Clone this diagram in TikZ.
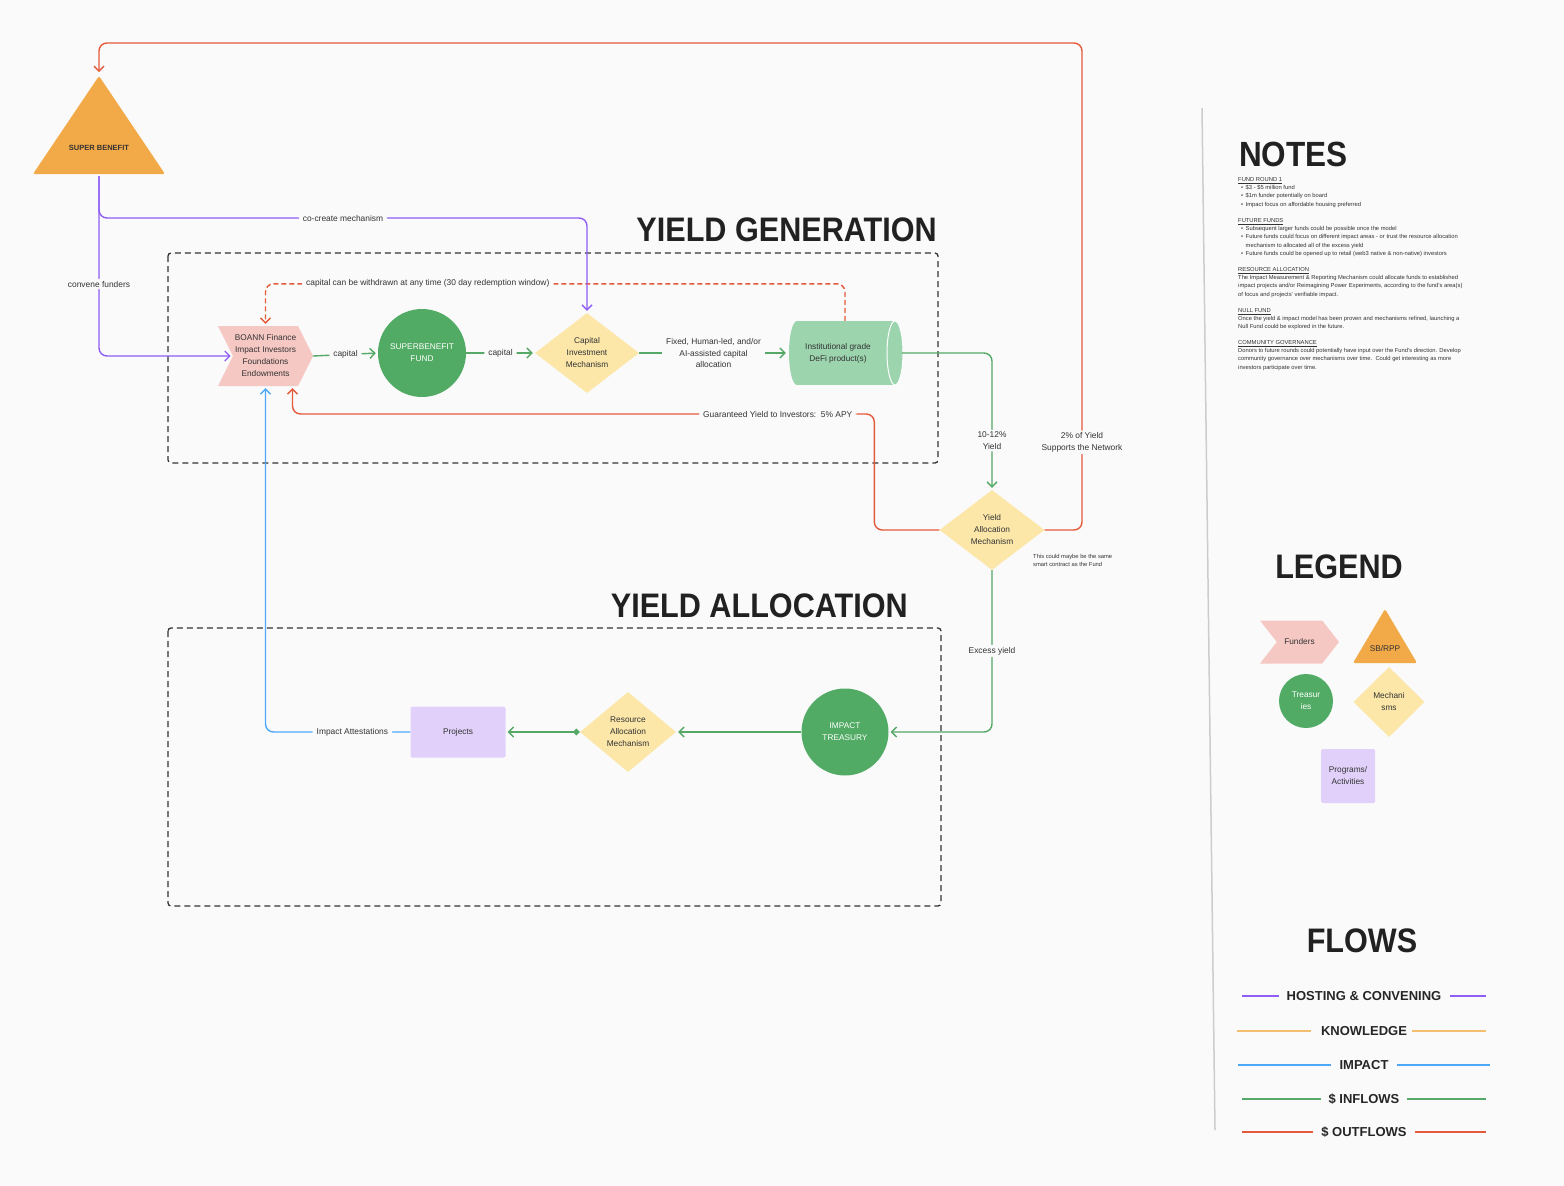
\documentclass[tikz,border=0pt]{standalone}
\usepackage{fontspec}
\setmainfont{Liberation Sans}
\newfontfamily\headfont[FakeStretch=0.9]{Liberation Sans}
\usetikzlibrary{shapes.geometric, shapes.symbols, arrows.meta}

\definecolor{pagebg}{HTML}{FAFAFA}
\definecolor{funderpink}{HTML}{F6C8C3}
\definecolor{sborange}{HTML}{F2A947}
\definecolor{treasgreen}{HTML}{52AB65}
\definecolor{mechyellow}{HTML}{FCE7A9}
\definecolor{defigreen}{HTML}{9CD4AE}
\definecolor{projpurple}{HTML}{E1D1FA}
\definecolor{ingreen}{HTML}{55A865}
\definecolor{outred}{HTML}{E65A3C}
\definecolor{hostpurple}{HTML}{8F5CF5}
\definecolor{impblue}{HTML}{4DA8FA}
\definecolor{knoworange}{HTML}{F3BE70}
\definecolor{inkgray}{HTML}{333333}

\newcommand{\notebullet}{\hspace*{3pt}\textbullet\hspace*{2.5pt}}
\newcommand{\noteindent}{\hspace*{7.5pt}}

\begin{document}
\begin{tikzpicture}[x=1pt, y=-1pt]
	\tikzset{
	>={Straight Barb[length=5pt, width=10pt]}, % open chevron heads
	flow/.style={line width=1.4pt, rounded corners=8pt, shorten >=2pt}, % every connector
	inflow/.style={flow, ingreen, ->},
	outflow/.style={flow, outred, ->},
	hosting/.style={flow, hostpurple, ->},
	impactflow/.style={flow, impblue, ->},
	lbl/.style={fill=pagebg, text=inkgray, font=\fontsize{8.4}{11.5}\selectfont, align=center, inner xsep=4pt, inner ysep=2pt}, % text on a connector
	shapetext/.style={font=\fontsize{8.3}{12}\selectfont, align=center, text=inkgray, inner sep=0pt},
	funder/.style={shapetext, signal, signal to=east, signal from=west, fill=funderpink},
	treasury/.style={shapetext, circle, fill=treasgreen, text=white},
	mech/.style={shapetext, diamond, aspect=1.3, fill=mechyellow},
	project/.style={shapetext, rectangle, rounded corners=1.5pt, fill=projpurple},
	zone/.style={draw=black!80, line width=1.3pt, dash pattern=on 6pt off 4pt, rounded corners=3pt},
	titletxt/.style={font=\headfont\bfseries\fontsize{34}{40}\selectfont, text=black!87, inner sep=0pt},
	flowtxt/.style={font=\bfseries\fontsize{13}{15}\selectfont, text=black!85, inner sep=0pt},
	notetext/.style={font=\fontsize{5.8}{8.1}\selectfont, align=left, text=inkgray, inner sep=0pt, anchor=north west}
	}
	\fill[pagebg] (0,0) rectangle (1564,1186);
	\useasboundingbox (0,0) rectangle (1564,1186);

	% the two zones
	\draw[zone] (168,253) rectangle (938,463);
	\draw[zone] (168,628) rectangle (941,906);
	\node[titletxt, anchor=base east] (ygtitle) at (937,241) {YIELD GENERATION};
	\node[titletxt, anchor=base east] (yatitle) at (908,617) {YIELD ALLOCATION};

	% super benefit
	\fill[sborange, rounded corners=2pt] (99,76) -- (165,174) -- (33,174) -- cycle;
	\node[shapetext, font=\bfseries\fontsize{7.5}{9}\selectfont] (sb) at (99,148) {SUPER BENEFIT};
	\coordinate (sbtop) at (99,74);
	\coordinate (sbbase) at (99,176);
	\coordinate (branch) at (99,218);
	\coordinate (netcorner) at (1082,43);

	% yield generation
	\node[funder, minimum width=95, minimum height=60, signal pointer angle=127] (boann) at (265.5,356) {BOANN Finance\\Impact Investors\\Foundations\\Endowments};
	\node[treasury, minimum size=88] (sbfund) at (422,353) {SUPERBENEFIT\\FUND};
	\node[mech, minimum width=104, minimum height=80] (cim) at (587,353) {Capital\\Investment\\Mechanism};
	\fill[defigreen] (797,321) rectangle (895,385);
	\fill[defigreen] (797,353) ellipse [x radius=8, y radius=32];
	\fill[defigreen] (895,353) ellipse [x radius=8, y radius=32];
	\draw[white, line width=1pt] (895,353) ellipse [x radius=8, y radius=32];
	\node[shapetext, minimum width=114, minimum height=64] (defi) at (845,353) {\hspace*{-14pt}\begin{tabular}{@{}c@{}}Institutional grade\\DeFi product(s)\end{tabular}};
	\node[mech, minimum width=105, minimum height=80] (yam) at (992,530) {Yield\\Allocation\\Mechanism};
	\node[notetext] (yamnote) at (1033,554) {This could maybe be the same\\smart contract as the Fund};

	% yield allocation
	\node[treasury, minimum size=87] (itreas) at (845,732) {IMPACT\\TREASURY};
	\node[mech, minimum width=96, minimum height=80] (ram) at (628,732) {Resource\\Allocation\\Mechanism};
	\node[project, minimum width=95, minimum height=51] (projects) at (458,732) {Projects};

	% connectors
	\draw[inflow] (boann.east) -- node[lbl]{capital} (sbfund.west);
	\draw[inflow] (sbfund.east) -- node[lbl]{capital} (cim.west);
	\draw[inflow] (cim.east) -- node[lbl]{Fixed, Human-led, and/or\\AI-assisted capital\\allocation} (defi.west);
	\draw[inflow] (defi.east) -- (defi.east -| yam.north) -- node[lbl, pos=0.64]{10-12\%\\Yield} (yam.north);
	\draw[outflow] (yam.east) -| node[lbl, pos=0.59]{2\% of Yield\\Supports the Network} (netcorner) -| (sbtop);
	\draw[outflow] (yam.west) -- ++(-65,0) -- ++(0,-116) -| node[lbl, pos=0.083]{Guaranteed Yield to Investors:\ \ 5\% APY} ([xshift=27]boann.south);
	\draw[outflow, dash pattern=on 5pt off 3pt] (defi.north) -- ++(0,-37) -| node[lbl, pos=0.36]{capital can be withdrawn at any time (30 day redemption window)} (boann.north);
	\draw[hosting] (sbbase) |- node[lbl, pos=0.30]{convene funders} (boann.west);
	\draw[hosting] (sbbase) -- (branch) -| node[lbl, pos=0.25]{co-create mechanism} (cim.north);
	\draw[impactflow] (projects.west) -| node[lbl, pos=0.2]{Impact Attestations} (boann.south);
	\draw[inflow] (yam.south) |- node[lbl, pos=0.25]{Excess yield} (itreas.east);
	\draw[inflow] (itreas.west) -- (ram.east);
	\draw[inflow, {Diamond[length=7pt, width=7pt]}->] (ram.west) -- (projects.east);

	% side panel
	\draw[black!20, line width=1.5pt] (1202,108) -- (1215,1130);
	\node[titletxt, font=\headfont\bfseries\fontsize{35}{40}\selectfont, anchor=base west] (notestitle) at (1239,166) {NOTES};
	\node[notetext] (note1) at (1238,177.5) {\underline{FUND ROUND 1}\\
		\notebullet \$3 - \$5 million fund\\
		\notebullet \$1m funder potentially on board\\
		\notebullet Impact focus on affordable housing preferred};
	\node[notetext] (note2) at (1238,218.5) {\underline{FUTURE FUNDS}\\
		\notebullet Subsequent larger funds could be possible once the model\\
		\notebullet Future funds could focus on different impact areas - or trust the resource allocation\\
		\noteindent mechanism to allocated all of the excess yield\\
		\notebullet Future funds could be opened up to retail (web3 native \& non-native) investors};
	\node[notetext] (note3) at (1238,267.5) {\underline{RESOURCE ALLOCATION}\\
		The Impact Measurement \& Reporting Mechanism could allocate funds to established\\
		impact projects and/or Reimagining Power Experiments, according to the fund's area(s)\\
		of focus and projects' verifiable impact.};
	\node[notetext] (note4) at (1238,308.5) {\underline{NULL FUND}\\
		Once the yield \& impact model has been proven and mechanisms refined, launching a\\
		Null Fund could be explored in the future.};
	\node[notetext] (note5) at (1238,340.5) {\underline{COMMUNITY GOVERNANCE}\\
		Donors to future rounds could potentially have input over the Fund's direction. Develop\\
		community governance over mechanisms over time.\ \ Could get interesting as more\\
		investors participate over time.};

	% legend
	\node[titletxt, anchor=base] (legendtitle) at (1339,578) {LEGEND};
	\node[funder, minimum width=79, minimum height=43, signal pointer angle=104] (lgfunders) at (1299.5,642) {Funders};
	\fill[sborange, rounded corners=1.5pt] (1385,609) -- (1417,663) -- (1353,663) -- cycle;
	\node[shapetext] (lgsb) at (1385,649) {SB/RPP};
	\node[treasury, minimum size=54] (lgtreas) at (1306,701) {Treasur\\ies};
	\node[mech, minimum width=71, minimum height=70] (lgmech) at (1389,702) {Mechani\\sms};
	\node[project, minimum width=54, minimum height=54] (lgprog) at (1348,776) {Programs/\\Activities};

	% flows
	\node[titletxt, anchor=base] (flowstitle) at (1362,952) {FLOWS};
	\foreach \ftext/\fcol/\fy/\la/\lb/\ra/\rb in {HOSTING \& CONVENING/hostpurple/996/1242/1279/1450/1486,
		KNOWLEDGE/knoworange/1031/1237/1311/1412/1486,
		IMPACT/impblue/1065/1238/1331/1397/1490,
		\$ INFLOWS/ingreen/1099/1242/1321/1407/1486,
		\$ OUTFLOWS/outred/1132/1242/1313/1415/1486}{
		\draw[\fcol, line width=1.3pt] (\la,\fy) -- (\lb,\fy) (\ra,\fy) -- (\rb,\fy);
		\node[flowtxt] (flow\fy) at (1364,\fy) {\ftext};
	}
\end{tikzpicture}
\end{document}
